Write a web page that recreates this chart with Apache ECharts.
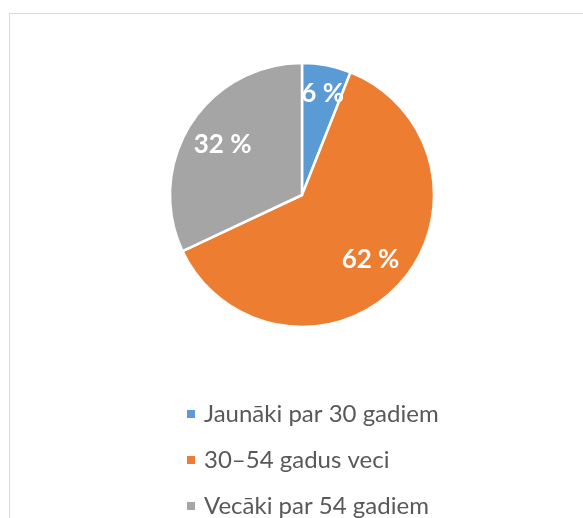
<!DOCTYPE html>
<html>
<head>
<meta charset="utf-8">
<script src="https://cdn.jsdelivr.net/npm/echarts@6/dist/echarts.min.js"></script>
<style>
  html, body { margin: 0; padding: 0; background: #fff; }
  #chart { width: 583px; height: 518px; }
</style>
</head>
<body>
<div id="chart"></div>
<script>
// data
var categories = ['Jaunāki par 30 gadiem', '30–54 gadus veci', 'Vecāki par 54 gadiem'];
var shares = [6, 62, 32];
var colors = ['#5b9bd5', '#ed7d31', '#a5a5a5'];

var myChart = echarts.init(document.getElementById('chart'));

var pieData = categories.map(function (name, i) {
    return { name: name, value: shares[i] };
});

var option = {
    color: colors,
    animation: false,
    textStyle: { fontFamily: 'Lato' },
    graphic: [
        {
            // chart frame
            type: 'rect',
            shape: { x: 9.5, y: 13.5, width: 600, height: 600 },
            style: { fill: 'none', stroke: '#d9d9d9', lineWidth: 1 },
            silent: true
        }
    ],
    legend: {
        orient: 'vertical',
        left: 185,
        top: 401,
        height: 140,
        padding: 0,
        itemWidth: 10,
        itemHeight: 10,
        itemGap: 20,
        icon: 'rect',
        textStyle: {
            fontFamily: 'Lato',
            fontSize: 24,
            lineHeight: 26,
            color: '#595959',
            padding: [0, 0, 0, 3]
        }
    },
    series: [
        {
            name: 'slices',
            type: 'pie',
            center: [302, 195],
            radius: [0, 132],
            startAngle: 90,
            clockwise: true,
            data: pieData,
            label: { show: false },
            labelLine: { show: false },
            itemStyle: { borderColor: '#fff', borderWidth: 2.5 },
            emphasis: { disabled: true }
        },
        {
            // transparent ring only to place the value labels
            name: 'labels',
            type: 'pie',
            center: [302, 195],
            radius: [50, 132],
            startAngle: 90,
            clockwise: true,
            silent: true,
            data: pieData.map(function (d, i) {
                var item = { name: d.name, value: d.value };
                if (i === 0) item.label = { offset: [3, -9] };
                return item;
            }),
            itemStyle: { color: 'transparent', borderWidth: 0 },
            label: {
                show: true,
                position: 'inside',
                formatter: '{c} %',
                color: '#fff',
                fontFamily: 'Lato',
                fontWeight: 'bold',
                fontSize: 26
            },
            labelLine: { show: false },
            emphasis: { disabled: true }
        }
    ]
};

myChart.setOption(option);

window.addEventListener('resize', function () {
    myChart.resize();
});
</script>
</body>
</html>
